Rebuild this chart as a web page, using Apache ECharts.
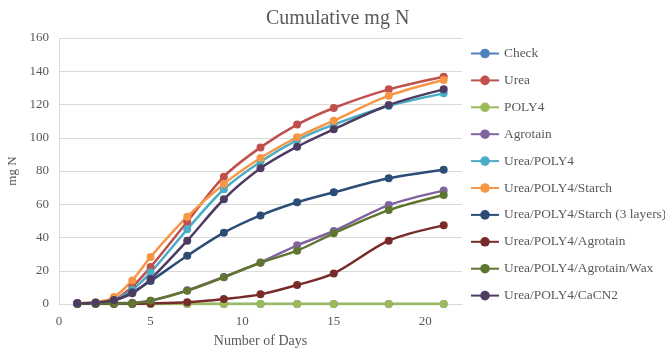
<!DOCTYPE html>
<html><head><meta charset="utf-8">
<script src="https://cdn.jsdelivr.net/npm/echarts@6/dist/echarts.min.js"></script>
<style>html,body{margin:0;padding:0;background:#fff}#c{width:665px;height:349px}</style>
</head><body><div id="c"></div>
<script>
const days = [1,2,3,4,5,7,9,11,13,15,18,21];
const seriesNames = ["Check","Urea","POLY4","Agrotain","Urea/POLY4","Urea/POLY4/Starch","Urea/POLY4/Starch (3 layers)","Urea/POLY4/Agrotain","Urea/POLY4/Agrotain/Wax","Urea/POLY4/CaCN2"];
const check = [0,0,0,0,0,0,0,0,0,0,0,0];
const urea = [0.5,0.8,2.5,10.4,22.3,49.5,76.6,94.2,107.9,117.9,129.1,136.7];
const poly4 = [0,0,0,0,0,0,0,0,0,0,0,0];
const agrotain = [0.3,0.3,0.5,0.8,2.0,8.2,16.3,25.0,35.3,43.9,59.5,68.2];
const ureaPoly4 = [0.5,0.8,2.5,8.6,19.0,44.9,69.0,85.6,98.6,107.9,119.1,126.7];
const ureaPoly4Starch = [0.5,1.0,4.2,14.2,28.3,52.5,72.2,87.8,100.3,110.3,125.3,134.7];
const ureaPoly4Starch3 = [0.4,0.8,2.0,7.0,13.8,29.0,42.9,53.3,61.2,67.2,75.6,80.8];
const ureaPoly4Agrotain = [0.1,0.1,0.1,0.2,0.3,1.0,3.0,5.8,11.4,18.4,38.1,47.3];
const ureaPoly4AgrotainWax = [0.2,0.2,0.3,0.5,2.0,8.0,16.1,24.8,32.1,42.5,56.5,65.6];
const ureaPoly4CaCN2 = [0.4,0.8,2.4,6.4,15.0,38.1,63.0,81.6,94.6,105.1,119.7,129.1];
const allValues = [check,urea,poly4,agrotain,ureaPoly4,ureaPoly4Starch,ureaPoly4Starch3,ureaPoly4Agrotain,ureaPoly4AgrotainWax,ureaPoly4CaCN2];
const colors = ["#4F81BD","#C0504D","#9BBB59","#8064A2","#4BACC6","#F79646","#2C4D75","#772C2A","#5F7530","#4D3B62"];
const font = "Liberation Serif";
const chart = echarts.init(document.getElementById('c'));
chart.setOption({
  animation:false,
  color: colors,
  title:{text:"Cumulative mg N",left:261,top:4,textStyle:{fontFamily:font,fontSize:20,fontWeight:'normal',color:'#595959'}},
  grid:{left:59,right:203,top:38,bottom:45,outerBoundsMode:'none',containLabel:false},
  legend:{orient:'vertical',left:465,top:42,itemWidth:28,itemHeight:12,itemGap:13.9,
    textStyle:{fontFamily:font,fontSize:13.4,color:'#595959'},data:seriesNames},
  xAxis:{type:'value',min:0,max:22,interval:5,name:'Number of Days',nameLocation:'middle',nameGap:30,
    nameTextStyle:{fontFamily:font,fontSize:14,color:'#595959'},
    axisLine:{lineStyle:{color:'#D9D9D9'}},axisTick:{show:false},splitLine:{show:false},
    axisLabel:{fontFamily:font,fontSize:13,color:'#595959',showMaxLabel:false,margin:11}},
  yAxis:{type:'value',min:0,max:160,interval:20,name:'mg N',nameLocation:'middle',nameGap:29,
    nameTextStyle:{fontFamily:font,fontSize:13,color:'#595959'},
    axisLine:{show:true,lineStyle:{color:'#D9D9D9'}},axisTick:{show:false},
    splitLine:{lineStyle:{color:'#D9D9D9',width:1}},
    axisLabel:{fontFamily:font,fontSize:13,color:'#595959',margin:10}},
  series: seriesNames.map((n,i)=>({
    name:n,type:'line',smooth:0.3,symbol:'circle',symbolSize:8,
    lineStyle:{width:2.5},
    data: days.map((d,j)=>[d, allValues[i][j]])
  }))
});
</script></body></html>
